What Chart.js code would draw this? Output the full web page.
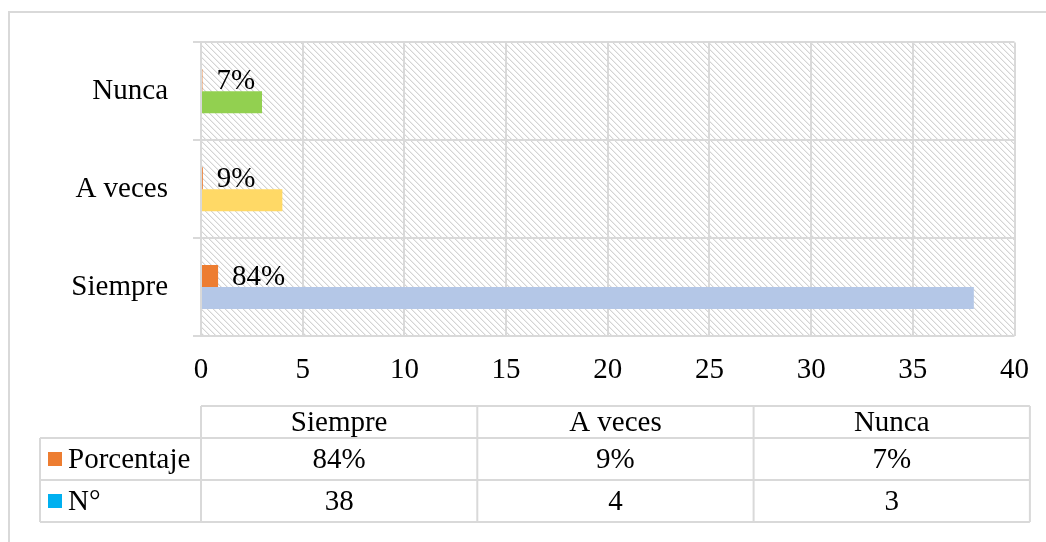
<html lang="es">

<head>
    <meta charset="UTF-8">
    <title>Siempre / A veces / Nunca</title>
    <script src="https://cdn.jsdelivr.net/npm/chart.js"></script>
    <style>
        body { margin: 0; background: #ffffff; }
        canvas { display: block; }
    </style>
</head>

<body>
    <canvas id="grafico" width="1046" height="542"></canvas>

    <script>
        // datos del grafico
        const categorias = ['Siempre', 'A veces', 'Nunca'];
        const porcentaje = [0.84, 0.09, 0.07];   // fraccion, se dibuja sobre el mismo eje
        const numero = [38, 4, 3];
        const ticksX = [0, 5, 10, 15, 20, 25, 30, 35, 40];
        const nombresSeries = ['Porcentaje', 'N°'];

        // colores
        const colorPorcentaje = '#ED7D31';
        const coloresNumero = ['#B4C7E7', '#FFD966', '#92D050'];
        const colorLeyendaNumero = '#00B0F0';
        const colorLinea = '#D9D9D9';
        const fuente = "'Liberation Serif', 'Times New Roman', serif";
        const tamano = 29;

        function formatoPct(v) {
            return Math.round(v * 100) + '%';
        }

        // trama diagonal del fondo del area de trazado
        function crearTrama(ctx) {
            let c = document.createElement('canvas');
            c.width = 6;
            c.height = 6;
            let g = c.getContext('2d');
            g.fillStyle = '#ffffff';
            g.fillRect(0, 0, 6, 6);
            g.fillStyle = '#d4d4d4';
            for (let i = 0; i < 6; i++) g.fillRect(i, i, 1, 1);
            g.fillStyle = '#eeeeee';
            for (let i = 0; i < 6; i++) g.fillRect((i + 1) % 6, i, 1, 1);
            return ctx.createPattern(c, 'repeat');
        }

        const fondo = {
            id: 'fondo',
            beforeDraw(chart) {
                let ctx = chart.ctx;
                let a = chart.chartArea;
                ctx.save();
                ctx.fillStyle = '#ffffff';
                ctx.fillRect(0, 0, chart.width, chart.height);
                // borde exterior del grafico
                ctx.strokeStyle = colorLinea;
                ctx.lineWidth = 2;
                ctx.strokeRect(9, 12, 1060, 560);
                ctx.fillStyle = crearTrama(ctx);
                ctx.fillRect(a.left, a.top, a.right - a.left, a.bottom - a.top);
                ctx.restore();
            }
        };

        // etiquetas de porcentaje junto a las barras
        const etiquetas = {
            id: 'etiquetas',
            afterDatasetsDraw(chart) {
                let ctx = chart.ctx;
                let meta = chart.getDatasetMeta(0);
                ctx.save();
                ctx.font = tamano + 'px ' + fuente;
                ctx.fillStyle = '#000000';
                ctx.textAlign = 'left';
                ctx.textBaseline = 'middle';
                meta.data.forEach((bar, i) => {
                    ctx.fillText(formatoPct(porcentaje[i]), bar.x + 14, bar.y + 1);
                });
                ctx.restore();
            }
        };

        // tabla de datos debajo del grafico
        const tabla = {
            id: 'tabla',
            afterDraw(chart) {
                let ctx = chart.ctx;
                let x0 = 40, x1 = 201, ancho = 276.3;
                let xFin = x1 + ancho * categorias.length;
                let filas = [406, 438, 480, 522];

                ctx.save();
                ctx.strokeStyle = colorLinea;
                ctx.lineWidth = 2;
                ctx.beginPath();
                // lineas horizontales
                ctx.moveTo(x1, filas[0]); ctx.lineTo(xFin, filas[0]);
                for (let r = 1; r < filas.length; r++) {
                    ctx.moveTo(x0, filas[r]); ctx.lineTo(xFin, filas[r]);
                }
                // lineas verticales
                ctx.moveTo(x0, filas[1]); ctx.lineTo(x0, filas[3]);
                for (let c = 0; c <= categorias.length; c++) {
                    let x = x1 + ancho * c;
                    ctx.moveTo(x, filas[0]); ctx.lineTo(x, filas[3]);
                }
                ctx.stroke();

                ctx.font = tamano + 'px ' + fuente;
                ctx.fillStyle = '#000000';
                ctx.textBaseline = 'middle';
                ctx.textAlign = 'center';
                categorias.forEach((cat, i) => {
                    let cx = x1 + ancho * (i + 0.5);
                    ctx.fillText(cat, cx, (filas[0] + filas[1]) / 2 + 1);
                    ctx.fillText(formatoPct(porcentaje[i]), cx, (filas[1] + filas[2]) / 2 + 1);
                    ctx.fillText(String(numero[i]), cx, (filas[2] + filas[3]) / 2 + 1);
                });

                // claves de leyenda
                ctx.textAlign = 'left';
                let colores = [colorPorcentaje, colorLeyendaNumero];
                nombresSeries.forEach((nombre, r) => {
                    let cy = (filas[r + 1] + filas[r + 2]) / 2;
                    ctx.fillStyle = colores[r];
                    ctx.fillRect(48, cy - 7, 14, 14);
                    ctx.fillStyle = '#000000';
                    ctx.fillText(nombre, 68, cy + 1);
                });
                ctx.restore();
            }
        };

        let ctx = document.getElementById('grafico').getContext('2d');
        let grafico = new Chart(ctx, {
            type: 'bar',
            data: {
                labels: categorias,
                datasets: [
                    {
                        label: nombresSeries[0],
                        data: porcentaje,
                        backgroundColor: colorPorcentaje
                    },
                    {
                        label: nombresSeries[1],
                        data: numero,
                        backgroundColor: coloresNumero
                    }
                ]
            },
            options: {
                indexAxis: 'y',
                responsive: false,
                animation: false,
                categoryPercentage: 0.45,
                barPercentage: 1,
                layout: {
                    padding: { top: 42, right: 28, bottom: 156, left: 0 }
                },
                plugins: {
                    legend: { display: false },
                    tooltip: { enabled: false }
                },
                scales: {
                    x: {
                        min: 0,
                        max: 40,
                        afterBuildTicks(scale) {
                            scale.ticks = ticksX.map(v => ({ value: v }));
                        },
                        afterFit(scale) {
                            scale.height = 50;
                        },
                        grid: { color: colorLinea, lineWidth: 2, drawTicks: false },
                        border: { display: false },
                        ticks: {
                            padding: 17,
                            color: '#000000',
                            font: { family: fuente, size: tamano }
                        }
                    },
                    y: {
                        reverse: true,
                        afterFit(scale) {
                            scale.width = 201;
                        },
                        grid: { color: colorLinea, lineWidth: 2, offset: true, tickLength: 8 },
                        border: { display: true, color: colorLinea, width: 2 },
                        ticks: {
                            padding: 25,
                            color: '#000000',
                            font: { family: fuente, size: tamano }
                        }
                    }
                }
            },
            plugins: [fondo, etiquetas, tabla]
        });
    </script>

</body>

</html>
